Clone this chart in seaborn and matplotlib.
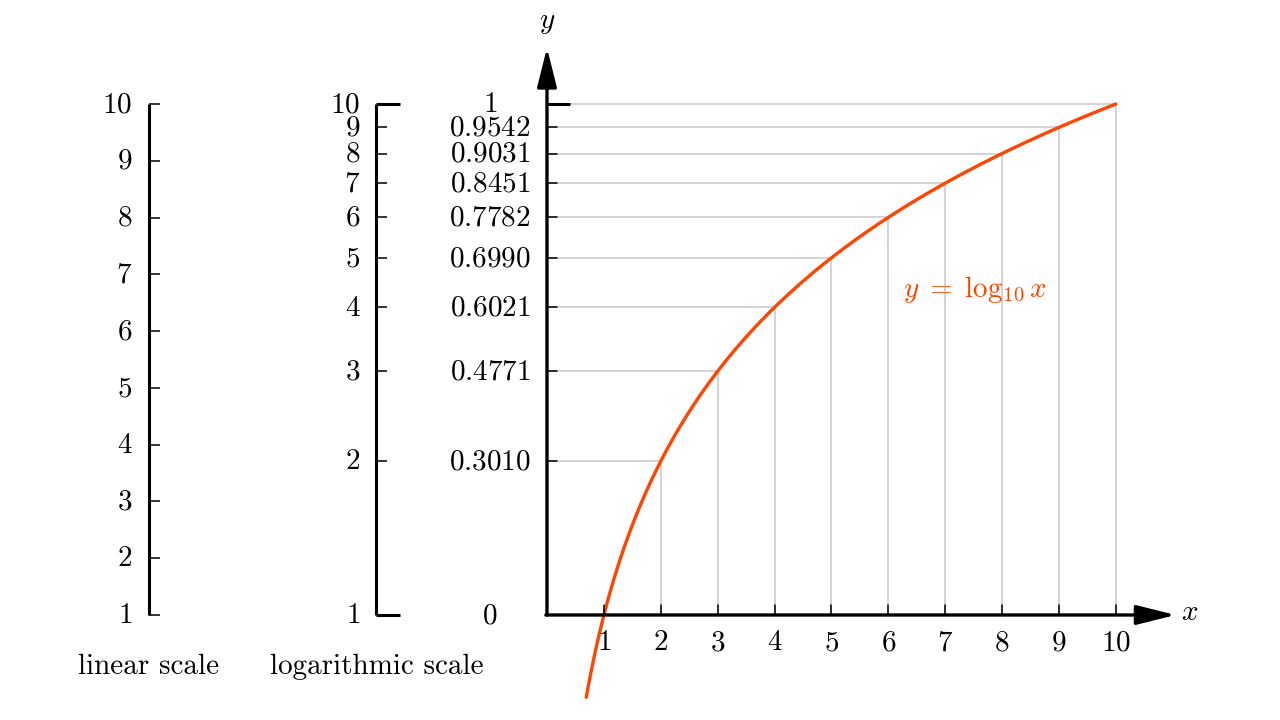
import numpy as np
import matplotlib
matplotlib.use("Agg")
import matplotlib.pyplot as plt
import seaborn as sns

# ---- data ----
linear_values = [1, 2, 3, 4, 5, 6, 7, 8, 9, 10]
log_values = [1, 2, 3, 4, 5, 6, 7, 8, 9, 10]
log_labels = ["0", "0.3010", "0.4771", "0.6021", "0.6990", "0.7782", "0.8451", "0.9031", "0.9542", "1"]
x_ticks = [1, 2, 3, 4, 5, 6, 7, 8, 9, 10]
curve_start, curve_end = 0.69, 10.0
curve_color = "#ff4500"
grid_color = "#c8c8c8"

sns.set_theme(style="white")
plt.rcParams["mathtext.fontset"] = "cm"
plt.rcParams["font.family"] = ["cmr10", "DejaVu Serif"]
plt.rcParams["axes.formatter.use_mathtext"] = True
plt.rcParams["text.color"] = "black"
FS = 21

fig = plt.figure(figsize=(12.8, 7.2), dpi=100)
ax = fig.add_axes([0, 0, 1, 1])
ax.set_xlim(-9.615, 12.885)
ax.set_ylim(-0.2055, 1.2035)
ax.axis("off")

# positions of the auxiliary scales (in main-plot units)
X_LIN = -7.0
X_LOG = -3.0
X_VAL = -1.0

# ---- linear scale ----
lin_pos = [(v - 1) / 9 for v in linear_values]
ax.plot([X_LIN, X_LIN], [0, 1], color="black", lw=2.2, solid_capstyle="butt")
for v, p in zip(linear_values, lin_pos):
    ax.plot([X_LIN, X_LIN + 0.19], [p, p], color="black", lw=1.1, solid_capstyle="butt")
    ax.text(X_LIN - 0.29, p - 0.002, f"${v}$", ha="right", va="center", fontsize=FS)
ax.text(X_LIN, -0.102, "linear scale", ha="center", va="center", fontsize=FS)

# ---- logarithmic scale ----
lg = np.log10(log_values)
ax.plot([X_LOG, X_LOG], [0, 1], color="black", lw=2.2, solid_capstyle="butt")
for v, p in zip(log_values, lg):
    if v in (1, 10):
        ax.plot([X_LOG, X_LOG + 0.41], [p, p], color="black", lw=2.2, solid_capstyle="butt")
    else:
        ax.plot([X_LOG, X_LOG + 0.19], [p, p], color="black", lw=1.1, solid_capstyle="butt")
    ax.text(X_LOG - 0.28, p - 0.002, f"${v}$", ha="right", va="center", fontsize=FS)
ax.text(X_LOG, -0.102, "logarithmic scale", ha="center", va="center", fontsize=FS)

# value labels
for lab, p in zip(log_labels, lg):
    ax.text(X_VAL, p - 0.002, f"${lab}$", ha="center", va="center", fontsize=FS)

# ---- grid lines ----
for v, p in zip(log_values[1:], lg[1:]):
    ax.plot([0, v], [p, p], color=grid_color, lw=1.1, zorder=1)
    ax.plot([v, v], [0, p], color=grid_color, lw=1.1, zorder=1)

# ---- curve ----
xs = np.linspace(curve_start, curve_end, 400)
sns.lineplot(x=xs, y=np.log10(xs), ax=ax, color=curve_color, lw=2.4, zorder=3)
ax.text(7.52, 0.636, r"$y \;=\; \log_{10} x$", color=curve_color, ha="center", va="center", fontsize=FS)

# ---- axes with arrows ----
arrow = dict(arrowstyle="-|>,head_length=2.0,head_width=0.5", lw=2.4,
             color="black", shrinkA=0, shrinkB=0)
ax.annotate("", xy=(11.05, 0), xytext=(-0.02, 0), arrowprops=arrow, zorder=4)
ax.annotate("", xy=(0, 1.11), xytext=(0, 0), arrowprops=arrow, zorder=4)
for v in x_ticks:
    ax.plot([v, v], [0, 0.02], color="black", lw=1.1, zorder=4)
    ax.text(v, -0.055, f"${v}$", ha="center", va="center", fontsize=FS)
for v, p in zip(log_values[1:], lg[1:]):
    if v == 10:
        ax.plot([0, 0.41], [p, p], color="black", lw=2.2, solid_capstyle="butt", zorder=4)
    else:
        ax.plot([0, 0.18], [p, p], color="black", lw=1.1, zorder=4)
ax.text(11.3, 0.004, "$x$", ha="center", va="center", fontsize=FS)
ax.text(0.0, 1.158, "$y$", ha="center", va="center", fontsize=FS)

fig.savefig("out.png", dpi=100)
